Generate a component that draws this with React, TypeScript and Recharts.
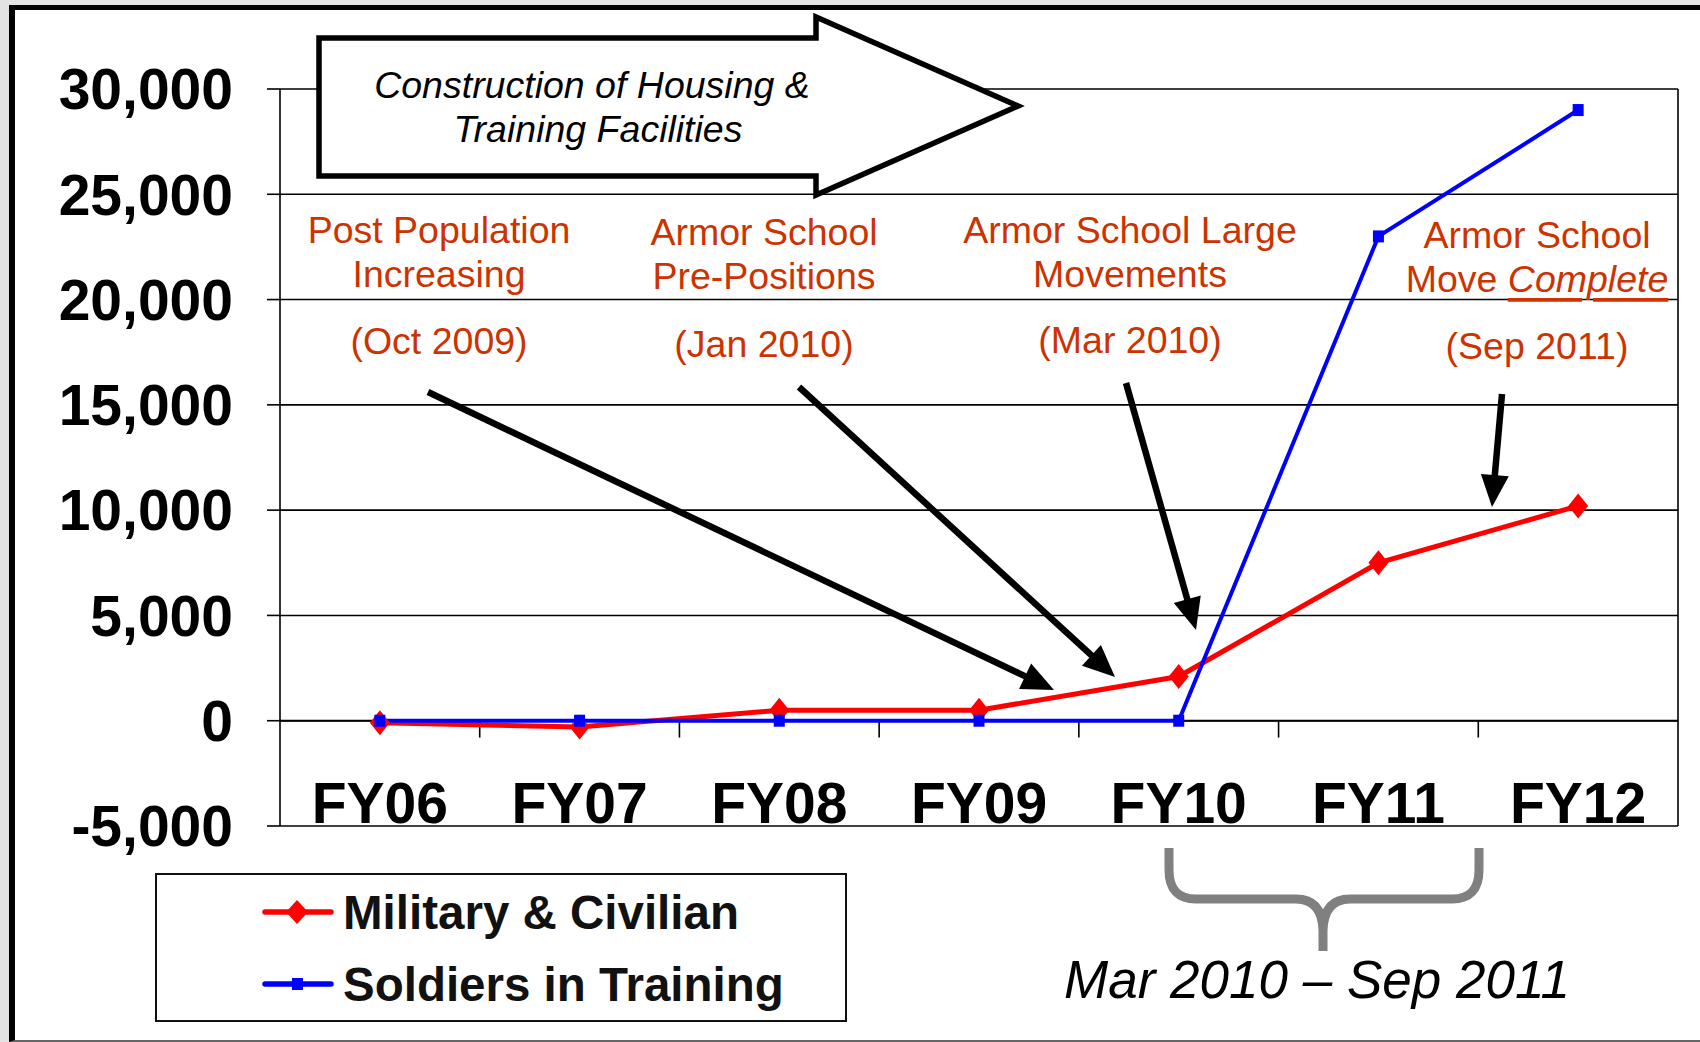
import React from "react"
import { LineChart, Line, XAxis, YAxis, CartesianGrid, ReferenceLine, Legend } from "recharts"

// fiscal years on the category axis
const categories = ["FY06", "FY07", "FY08", "FY09", "FY10", "FY11", "FY12"]
// population change
const militaryCivilian = [-100, -300, 500, 500, 2100, 7500, 10200]
const soldiersInTraining = [0, 0, 0, 0, 0, 23000, 29000]
const yTicks = [-5000, 0, 5000, 10000, 15000, 20000, 25000, 30000]

const FONT = "'Liberation Sans', Arial, Helvetica, sans-serif"
const NOTE_RED = "#CC3300"
const RED = "#FF0000"
const BLUE = "#0000FF"

const chartData = categories.map((name, i) => ({
  x: i + 0.5,
  name,
  military: militaryCivilian[i],
  soldiers: soldiersInTraining[i],
}))
const xTicks = categories.map((_, i) => i + 0.5)
const boundaries = categories.slice(1).map((_, i) => i + 1)

const formatNumber = (value: number) => new Intl.NumberFormat("en-US").format(value)

function Diamond(props: any) {
  const { cx, cy } = props
  if (cx == null || cy == null) return null
  return <polygon points={`${cx},${cy - 12.5} ${cx + 10},${cy} ${cx},${cy + 12.5} ${cx - 10},${cy}`} fill={RED} />
}

function Square(props: any) {
  const { cx, cy } = props
  if (cx == null || cy == null) return null
  return <rect x={cx - 5.5} y={cy - 6} width={11} height={12} fill={BLUE} />
}

// labels sit just above the bottom gridline, inside the plot
function CategoryTick(props: any) {
  const { x, y, payload } = props
  return (
    <text x={x} y={y - 3} textAnchor="middle" fontFamily={FONT} fontSize={57} fontWeight="bold" fill="#000">
      {categories[Math.floor(payload.value)]}
    </text>
  )
}

function LegendBox(props: any) {
  const payload = props.payload || []
  return (
    <svg width={692} height={149} style={{ display: "block" }}>
      <rect x={1} y={1} width={690} height={147} fill="#fff" stroke="#111" strokeWidth={2} />
      {payload.map((entry: any, i: number) => {
        const cy = 39 + i * 72
        return (
          <g key={entry.value}>
            <line x1={110} y1={cy} x2={176} y2={cy} stroke={entry.color} strokeWidth={5.5} strokeLinecap="round" />
            {entry.dataKey === "military" ? (
              <polygon points={`142,${cy - 12} 153,${cy} 142,${cy + 12} 131,${cy}`} fill={entry.color} />
            ) : (
              <rect x={137} y={cy - 6} width={11} height={12} fill={entry.color} />
            )}
            <text x={188} y={cy} dominantBaseline="central" fontFamily={FONT} fontSize={47.5} fontWeight="bold" fill="#111">
              {entry.value}
            </text>
          </g>
        )
      })}
    </svg>
  )
}

// callout text blocks: centre x and the y of each line
const notes = [
  { x: 439, lines: [["Post Population", 230], ["Increasing", 274], ["(Oct 2009)", 341]] },
  { x: 764, lines: [["Armor School", 232], ["Pre-Positions", 276], ["(Jan 2010)", 344]] },
  { x: 1130, lines: [["Armor School Large", 230], ["Movements", 274], ["(Mar 2010)", 340]] },
  { x: 1537, lines: [["Armor School", 235], ["", 279], ["(Sep 2011)", 346]] },
]

const arrows = [
  [428, 392, 1054, 690],
  [799, 387, 1115, 677],
  [1126, 383, 1196, 630],
  [1502, 394, 1492, 507],
]

function Arrow({ x1, y1, x2, y2 }: { x1: number; y1: number; x2: number; y2: number }) {
  const len = Math.hypot(x2 - x1, y2 - y1)
  const ux = (x2 - x1) / len
  const uy = (y2 - y1) / len
  const head = 32
  const half = 14
  const bx = x2 - ux * head
  const by = y2 - uy * head
  return (
    <g>
      <line x1={x1} y1={y1} x2={bx + ux * 2} y2={by + uy * 2} stroke="#000" strokeWidth={6.5} />
      <polygon
        points={`${x2},${y2} ${bx - uy * half},${by + ux * half} ${bx + uy * half},${by - ux * half}`}
        fill="#000"
      />
    </g>
  )
}

function Annotations() {
  return (
    <svg width={1700} height={1042} style={{ position: "absolute", left: 0, top: 0, pointerEvents: "none" }}>
      {/* block arrow */}
      <polygon
        points="319,38 816,38 816,17 1018,106 816,195 816,176 319,176"
        fill="#fff"
        stroke="#000"
        strokeWidth={5.5}
        strokeLinejoin="miter"
      />
      <text x={592} y={85} textAnchor="middle" dominantBaseline="central" fontFamily={FONT} fontSize={37.5} fontStyle="italic" fill="#000">
        Construction of Housing &amp;
      </text>
      <text x={598} y={129} textAnchor="middle" dominantBaseline="central" fontFamily={FONT} fontSize={37.5} fontStyle="italic" fill="#000">
        Training Facilities
      </text>

      {notes.map((note, n) =>
        note.lines.map(([label, y], i) => (
          <text
            key={`${n}-${i}`}
            x={note.x}
            y={y as number}
            textAnchor="middle"
            dominantBaseline="central"
            fontFamily={FONT}
            fontSize={37.5}
            fill={NOTE_RED}
          >
            {label === "" ? (
              <>
                <tspan>Move </tspan>
                <tspan fontStyle="italic" textDecoration="underline">
                  Complete
                </tspan>
              </>
            ) : (
              label
            )}
          </text>
        ))
      )}

      {arrows.map(([x1, y1, x2, y2], i) => (
        <Arrow key={i} x1={x1} y1={y1} x2={x2} y2={y2} />
      ))}

      {/* brace under FY10 - FY11 */}
      <path
        d="M1169,848 L1169,870 Q1169,899 1196,899 L1296,899 Q1322,899 1323,930 L1323,951 M1323,930 Q1324,899 1350,899 L1452,899 Q1479,899 1479,870 L1479,848"
        fill="none"
        stroke="#808080"
        strokeWidth={9}
        strokeLinejoin="round"
      />
      <text x={1317} y={979} textAnchor="middle" dominantBaseline="central" fontFamily={FONT} fontSize={53} fontStyle="italic" fill="#000">
        Mar 2010 – Sep 2011
      </text>
    </svg>
  )
}

export default function App() {
  return (
    <div
      style={{
        position: "absolute",
        left: 0,
        top: 0,
        width: 1700,
        height: 1042,
        overflow: "hidden",
        background: "#e3e3e3",
        fontFamily: FONT,
      }}
    >
      <div
        style={{
          position: "absolute",
          left: 9,
          top: 5,
          width: 1720,
          height: 1030,
          background: "#fff",
          borderLeft: "6px solid #000",
          borderTop: "5px solid #000",
          borderBottom: "2px solid #666",
        }}
      />
      <div style={{ position: "absolute", left: 0, top: 0 }}>
        <LineChart width={1700} height={1042} data={chartData} margin={{ top: 89, right: 22, bottom: 186, left: 0 }}>
          <CartesianGrid horizontal vertical={false} stroke="#000" strokeWidth={1.6} />
          <XAxis
            dataKey="x"
            type="number"
            domain={[0, 7]}
            ticks={xTicks}
            interval={0}
            axisLine={false}
            tickLine={false}
            tickSize={0}
            tickMargin={0}
            height={30}
            tick={<CategoryTick />}
          />
          <YAxis
            type="number"
            domain={[-5000, 30000]}
            ticks={yTicks}
            interval={0}
            width={280}
            tickSize={13}
            tickMargin={34}
            stroke="#000"
            strokeWidth={1.6}
            tickFormatter={formatNumber}
            tick={{ fill: "#000", fontSize: 57, fontWeight: "bold", fontFamily: FONT }}
          />
          <ReferenceLine y={0} stroke="#000" strokeWidth={2} />
          <ReferenceLine x={7} stroke="#000" strokeWidth={1.6} />
          {boundaries.map((b) => (
            <ReferenceLine
              key={b}
              segment={[
                { x: b, y: 0 },
                { x: b, y: -800 },
              ]}
              stroke="#000"
              strokeWidth={1.6}
            />
          ))}
          <Line
            type="linear"
            dataKey="military"
            name="Military & Civilian"
            stroke={RED}
            strokeWidth={5}
            dot={(p: any) => <Diamond key={`d-${p.index}`} {...p} />}
            activeDot={false}
            isAnimationActive={false}
          />
          <Line
            type="linear"
            dataKey="soldiers"
            name="Soldiers in Training"
            stroke={BLUE}
            strokeWidth={4}
            dot={(p: any) => <Square key={`s-${p.index}`} {...p} />}
            activeDot={false}
            isAnimationActive={false}
          />
          <Legend
            layout="vertical"
            align="center"
            verticalAlign="middle"
            content={<LegendBox />}
            wrapperStyle={{ left: 155, top: 873, width: 692, height: 149 }}
          />
        </LineChart>
      </div>
      <Annotations />
    </div>
  )
}
